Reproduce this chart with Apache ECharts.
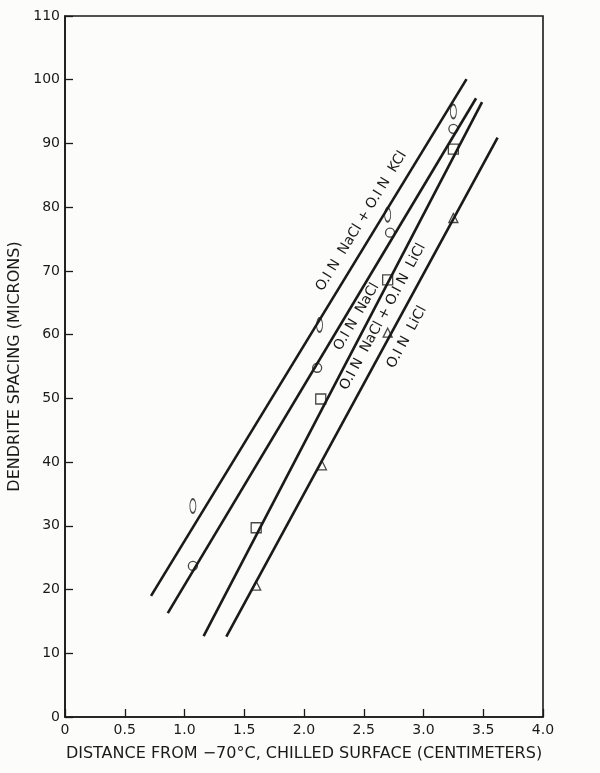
<!DOCTYPE html>
<html>
<head>
<meta charset="utf-8">
<script src="https://cdn.jsdelivr.net/npm/echarts@6/dist/echarts.min.js"></script>
<style>
  html, body { margin: 0; padding: 0; background: #fcfcfa; }
  #main { width: 600px; height: 773px; }
</style>
</head>
<body>
<div id="main"></div>
<script>
// fitted lines, endpoints [distance cm, spacing microns]
var lineNaClKCl = [[0.72, 19.0], [3.36, 100.1]];
var lineNaCl = [[0.86, 16.3], [3.44, 97.1]];
var lineNaClLiCl = [[1.16, 12.7], [3.49, 96.5]];
var lineLiCl = [[1.35, 12.6], [3.62, 90.9]];

// measured points
var ptsNaClKCl = [[1.07, 33.1], [2.13, 61.5], [2.70, 78.8], [3.25, 95.0]];
var ptsNaCl = [[1.07, 23.7], [2.11, 54.8], [2.72, 76.0], [3.25, 92.3]];
var ptsNaClLiCl = [[1.60, 29.7], [2.14, 49.9], [2.70, 68.6], [3.25, 89.1]];
var ptsLiCl = [[1.60, 20.6], [2.15, 39.5], [2.70, 60.3], [3.25, 78.3]];

var labelNames = ['O.I N  NaCl + O.I N  KCl', 'O.I N  NaCl', 'O.I N  NaCl + O.I N  LiCl', 'O.I N  LiCl'];
var labelSpots = [[2.48, 77.8], [2.44, 62.8], [2.66, 62.8], [2.86, 59.6]];
var labelAngles = [58.6, 59.5, 61.5, 61.5];

var ink = '#1a1a1a';
var font = 'DejaVu Sans';

var myChart = echarts.init(document.getElementById('main'));

function fitLine(data, idx) {
    return {
        type: 'line',
        data: data,
        showSymbol: false,
        silent: true,
        animation: false,
        lineStyle: {color: ink, width: 2.6},
        markPoint: {
            symbol: 'circle',
            symbolSize: 0,
            silent: true,
            data: [{
                coord: labelSpots[idx],
                label: {
                    show: true,
                    position: 'inside',
                    formatter: labelNames[idx],
                    rotate: labelAngles[idx],
                    color: ink,
                    fontFamily: font,
                    fontSize: 14
                }
            }]
        }
    };
}

function marks(data, symbol, size) {
    return {
        type: 'scatter',
        data: data,
        symbol: symbol,
        symbolSize: size,
        animation: false,
        itemStyle: {color: '#fcfcfa', borderColor: ink, borderWidth: 1.3}
    };
}

option = {
    backgroundColor: '#fcfcfa',
    grid: {
        left: 65,
        right: 57,
        top: 16,
        bottom: 56,
        outerBoundsMode: 'none',
        containLabel: false,
        show: true,
        borderColor: ink,
        borderWidth: 1.6,
        backgroundColor: 'transparent'
    },
    xAxis: {
        type: 'value',
        min: 0,
        max: 4,
        interval: 0.5,
        name: 'DISTANCE FROM \u221270\u00b0C, CHILLED SURFACE (CENTIMETERS)',
        nameLocation: 'middle',
        nameGap: 29,
        nameTextStyle: {color: ink, fontFamily: font, fontSize: 16},
        axisLine: {lineStyle: {color: ink, width: 1.6}},
        axisTick: {inside: true, length: 8, lineStyle: {color: ink, width: 1.3}},
        axisLabel: {
            color: ink, fontFamily: font, fontSize: 14, margin: 6,
            formatter: function (v) { return v === 0 ? '0' : v.toFixed(1); }
        },
        splitLine: {show: false}
    },
    yAxis: {
        type: 'value',
        min: 0,
        max: 110,
        interval: 10,
        name: 'DENDRITE SPACING (MICRONS)',
        nameLocation: 'middle',
        nameGap: 40,
        nameTextStyle: {color: ink, fontFamily: font, fontSize: 16},
        axisLine: {show: true, lineStyle: {color: ink, width: 1.6}},
        axisTick: {show: true, inside: true, length: 8, lineStyle: {color: ink, width: 1.3}},
        axisLabel: {color: ink, fontFamily: font, fontSize: 14, margin: 5},
        splitLine: {show: false}
    },
    series: [
        fitLine(lineNaClKCl, 0),
        fitLine(lineNaCl, 1),
        fitLine(lineNaClLiCl, 2),
        fitLine(lineLiCl, 3),
        marks(ptsNaClKCl, 'circle', [6, 14]),
        marks(ptsNaCl, 'circle', 9),
        marks(ptsNaClLiCl, 'rect', 10),
        marks(ptsLiCl, 'triangle', 9)
    ]
};
myChart.setOption(option);
</script>
</body>
</html>
